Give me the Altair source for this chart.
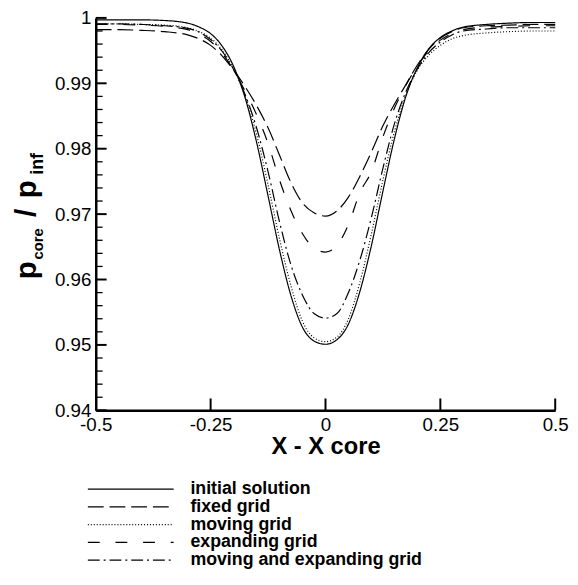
import altair as alt
import pandas as pd

x_vals = [-0.5, -0.45, -0.4, -0.35, -0.3, -0.275, -0.25, -0.225, -0.2, -0.175, -0.15,
          -0.125, -0.1, -0.075, -0.05, -0.025, 0, 0.025, 0.05, 0.075, 0.1, 0.125, 0.15,
          0.175, 0.2, 0.225, 0.25, 0.275, 0.3, 0.35, 0.4, 0.45, 0.5]

initial_solution = [0.9997, 0.9997, 0.9997, 0.9996, 0.9992, 0.9986, 0.9976, 0.9957, 0.9926,
                    0.9878, 0.9810, 0.9728, 0.9645, 0.9575, 0.9527, 0.9506, 0.9501, 0.9508,
                    0.9532, 0.9582, 0.9652, 0.9735, 0.9815, 0.9880, 0.9924, 0.9953, 0.9970,
                    0.9980, 0.9986, 0.9990, 0.9992, 0.9993, 0.9993]
fixed_grid = [0.9982, 0.9982, 0.9981, 0.9979, 0.9974, 0.9968, 0.9958, 0.9942, 0.9920,
              0.9895, 0.9866, 0.9832, 0.9790, 0.9748, 0.9717, 0.9702, 0.9697, 0.9705,
              0.9726, 0.9758, 0.9795, 0.9835, 0.9868, 0.9898, 0.9928, 0.9952, 0.9969,
              0.9979, 0.9985, 0.9988, 0.9989, 0.9990, 0.9990]
moving_grid = [0.9991, 0.9991, 0.9990, 0.9989, 0.9985, 0.9979, 0.9969, 0.9951, 0.9922,
               0.9881, 0.9822, 0.9745, 0.9662, 0.9590, 0.9536, 0.9511, 0.9505, 0.9512,
               0.9540, 0.9596, 0.9670, 0.9752, 0.9826, 0.9882, 0.9920, 0.9943, 0.9958,
               0.9968, 0.9973, 0.9977, 0.9979, 0.9980, 0.9980]
expanding_grid = [0.9990, 0.9990, 0.9989, 0.9987, 0.9982, 0.9975, 0.9964, 0.9946, 0.9920,
                  0.9888, 0.9852, 0.9808, 0.9752, 0.9705, 0.9670, 0.9648, 0.9642, 0.9652,
                  0.9684, 0.9733, 0.9765, 0.9818, 0.9862, 0.9897, 0.9926, 0.9950, 0.9966,
                  0.9976, 0.9982, 0.9986, 0.9987, 0.9988, 0.9988]
moving_expanding_grid = [0.9991, 0.9991, 0.9990, 0.9988, 0.9984, 0.9978, 0.9967, 0.9949, 0.9921,
                         0.9883, 0.9832, 0.9765, 0.9688, 0.9622, 0.9576, 0.9548, 0.9541, 0.9548,
                         0.9580, 0.9630, 0.9695, 0.9770, 0.9838, 0.9887, 0.9922, 0.9947, 0.9963,
                         0.9974, 0.9980, 0.9983, 0.9985, 0.9985, 0.9985]

series_names = ["initial solution", "fixed grid", "moving grid", "expanding grid",
                "moving and expanding grid"]
series_values = [initial_solution, fixed_grid, moving_grid, expanding_grid, moving_expanding_grid]

x_tick_values = [-0.5, -0.25, 0, 0.25, 0.5]
x_inner_ticks = [-0.25, 0, 0.25, 0.5]
y_major = [0.94, 0.95, 0.96, 0.97, 0.98, 0.99, 1.0]
y_minor = [0.942, 0.944, 0.946, 0.948, 0.952, 0.954, 0.956, 0.958, 0.962, 0.964, 0.966, 0.968,
           0.972, 0.974, 0.976, 0.978, 0.982, 0.984, 0.986, 0.988, 0.992, 0.994, 0.996, 0.998]

rows = []
for name, vals in zip(series_names, series_values):
    for xv, yv in zip(x_vals, vals):
        rows.append({"x": xv, "p": yv, "series": name})
df = pd.DataFrame(rows)

W, H = 466, 398
FONT = "Liberation Sans"
xscale = alt.Scale(domain=[-0.5, 0.5], nice=False, zero=False)
yscale = alt.Scale(domain=[0.94, 1.0], nice=False, zero=False)

x_axis = alt.Axis(values=x_tick_values, title="X - X core", labelFlush=False,
                  labelExpr="datum.value < 0 ? '-' + format(-datum.value, '~g') : format(datum.value, '~g')",
                  labelPadding=5, titlePadding=1, titleFontSize=24)
y_axis = alt.Axis(values=y_major, format="~g", title=None, labelPadding=5, labelFlush=False)

dash_range = [[1, 0], [16, 6], [1, 2], [12, 16], [12, 4, 2, 4]]

lines = alt.Chart(df).mark_line(color="black", strokeWidth=1.2, interpolate="monotone").encode(
    x=alt.X("x:Q", scale=xscale, axis=x_axis, title="X - X core"),
    y=alt.Y("p:Q", scale=yscale, axis=y_axis, title=None),
    strokeDash=alt.StrokeDash(
        "series:N",
        scale=alt.Scale(domain=series_names, range=dash_range),
        legend=alt.Legend(title=None, orient="none", legendX=26.5, legendY=469,
                          symbolType="M-8.7,0H8.7", symbolSize=100, symbolStrokeWidth=1.2,
                          symbolStrokeColor="black", labelFont=FONT, labelFontSize=18,
                          labelFontWeight="bold", labelColor="black", labelOffset=51.5,
                          rowPadding=0, padding=0, labelLimit=400)),
)

ymaj = alt.Chart(pd.DataFrame({"v": y_major})).mark_rule(color="black", strokeWidth=2).encode(
    y=alt.Y("v:Q", scale=yscale, axis=y_axis, title=None), x=alt.value(0), x2=alt.value(11))
ymin = alt.Chart(pd.DataFrame({"v": y_minor})).mark_rule(color="black", strokeWidth=1.3).encode(
    y=alt.Y("v:Q", scale=yscale, axis=y_axis, title=None), x=alt.value(0), x2=alt.value(7))
xmaj = alt.Chart(pd.DataFrame({"v": x_inner_ticks})).mark_rule(color="black", strokeWidth=2).encode(
    x=alt.X("v:Q", scale=xscale, axis=x_axis, title="X - X core"), y=alt.value(H), y2=alt.value(H - 12))

one = pd.DataFrame({"k": [0]})


def piece(txt, px, py, size):
    return alt.Chart(one).mark_text(text=txt, angle=270, align="left", baseline="alphabetic",
                                    font=FONT, fontSize=size, fontWeight="bold",
                                    color="black").encode(x=alt.value(px), y=alt.value(py))


title_layers = [
    piece("p", -61, 265, 30),
    piece("core", -54, 245, 15),
    piece("/", -61, 202, 30),
    piece("p", -61, 183, 30),
    piece("inf", -54, 159, 18),
]

chart = alt.layer(lines, ymaj, ymin, xmaj, *title_layers).properties(
    width=W, height=H,
    autosize=alt.AutoSizeParams(type="none"),
    padding={"left": 89, "top": 6, "right": 15, "bottom": 165},
).configure_view(stroke=None).configure_axis(
    grid=False, ticks=False, domainColor="black", domainWidth=2.5,
    labelFont=FONT, labelFontSize=19, labelColor="black",
    titleFont=FONT, titleFontWeight="bold", titleColor="black",
)

chart.save("out.html", embed_options={"renderer": "svg", "actions": False})
